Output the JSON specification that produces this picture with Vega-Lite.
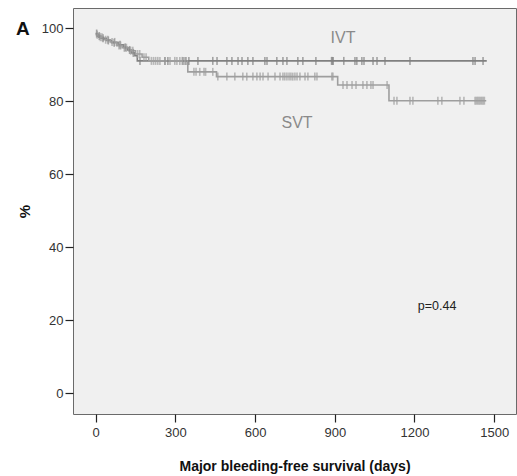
{
  "$schema": "https://vega.github.io/schema/vega-lite/v6.json",
  "width": 443,
  "height": 406,
  "autosize": {"type": "none"},
  "padding": {"left": 73, "top": 8, "right": 1, "bottom": 62},
  "background": "white",
  "title": {"text": "A", "anchor": "start", "frame": "group", "dx": -57, "dy": 35, "fontSize": 19, "fontWeight": "bold", "font": "Liberation Sans", "color": "#111"},
  "config": {
    "view": {"fill": "#f0f0f0", "stroke": "#6a6a6a", "strokeWidth": 1},
    "font": "Liberation Sans",
    "axis": {"grid": false, "domain": false, "tickColor": "#222", "tickSize": 8, "tickWidth": 1.2, "labelColor": "#333", "labelFontSize": 13, "titleColor": "#111", "titleFont": "Liberation Sans"}
  },
  "datasets": {
    "curve": [
      {"group": "IVT", "day": 0, "surv": 98.5},
      {"group": "IVT", "day": 8, "surv": 97.8},
      {"group": "IVT", "day": 20, "surv": 97.2},
      {"group": "IVT", "day": 40, "surv": 96.6},
      {"group": "IVT", "day": 60, "surv": 96.0},
      {"group": "IVT", "day": 85, "surv": 95.4},
      {"group": "IVT", "day": 105, "surv": 94.7},
      {"group": "IVT", "day": 120, "surv": 94.0},
      {"group": "IVT", "day": 135, "surv": 93.2},
      {"group": "IVT", "day": 148, "surv": 92.4},
      {"group": "IVT", "day": 157, "surv": 91.0},
      {"group": "IVT", "day": 1472, "surv": 91.0},
      {"group": "SVT", "day": 0, "surv": 98.2},
      {"group": "SVT", "day": 12, "surv": 97.5},
      {"group": "SVT", "day": 30, "surv": 96.8},
      {"group": "SVT", "day": 55, "surv": 96.2},
      {"group": "SVT", "day": 80, "surv": 95.2},
      {"group": "SVT", "day": 100, "surv": 94.6},
      {"group": "SVT", "day": 125, "surv": 93.8},
      {"group": "SVT", "day": 150, "surv": 92.9},
      {"group": "SVT", "day": 175, "surv": 92.0},
      {"group": "SVT", "day": 200, "surv": 91.0},
      {"group": "SVT", "day": 347, "surv": 88.0},
      {"group": "SVT", "day": 455, "surv": 86.7},
      {"group": "SVT", "day": 911, "surv": 84.4},
      {"group": "SVT", "day": 1104, "surv": 80.1},
      {"group": "SVT", "day": 1470, "surv": 80.1}
    ],
    "censor": [
      {"group": "IVT", "day": 4, "surv": 98.5},
      {"group": "IVT", "day": 14, "surv": 97.8},
      {"group": "IVT", "day": 28, "surv": 97.2},
      {"group": "IVT", "day": 48, "surv": 96.6},
      {"group": "IVT", "day": 70, "surv": 96.0},
      {"group": "IVT", "day": 92, "surv": 95.4},
      {"group": "IVT", "day": 112, "surv": 94.7},
      {"group": "IVT", "day": 128, "surv": 94.0},
      {"group": "IVT", "day": 142, "surv": 93.2},
      {"group": "IVT", "day": 167, "surv": 91.0},
      {"group": "IVT", "day": 261, "surv": 91.0},
      {"group": "IVT", "day": 272, "surv": 91.0},
      {"group": "IVT", "day": 329, "surv": 91.0},
      {"group": "IVT", "day": 340, "surv": 91.0},
      {"group": "IVT", "day": 351, "surv": 91.0},
      {"group": "IVT", "day": 385, "surv": 91.0},
      {"group": "IVT", "day": 441, "surv": 91.0},
      {"group": "IVT", "day": 457, "surv": 91.0},
      {"group": "IVT", "day": 494, "surv": 91.0},
      {"group": "IVT", "day": 513, "surv": 91.0},
      {"group": "IVT", "day": 536, "surv": 91.0},
      {"group": "IVT", "day": 551, "surv": 91.0},
      {"group": "IVT", "day": 573, "surv": 91.0},
      {"group": "IVT", "day": 592, "surv": 91.0},
      {"group": "IVT", "day": 637, "surv": 91.0},
      {"group": "IVT", "day": 645, "surv": 91.0},
      {"group": "IVT", "day": 682, "surv": 91.0},
      {"group": "IVT", "day": 705, "surv": 91.0},
      {"group": "IVT", "day": 720, "surv": 91.0},
      {"group": "IVT", "day": 761, "surv": 91.0},
      {"group": "IVT", "day": 780, "surv": 91.0},
      {"group": "IVT", "day": 829, "surv": 91.0},
      {"group": "IVT", "day": 888, "surv": 91.0},
      {"group": "IVT", "day": 891, "surv": 91.0},
      {"group": "IVT", "day": 894, "surv": 91.0},
      {"group": "IVT", "day": 934, "surv": 91.0},
      {"group": "IVT", "day": 976, "surv": 91.0},
      {"group": "IVT", "day": 983, "surv": 91.0},
      {"group": "IVT", "day": 1002, "surv": 91.0},
      {"group": "IVT", "day": 1010, "surv": 91.0},
      {"group": "IVT", "day": 1044, "surv": 91.0},
      {"group": "IVT", "day": 1059, "surv": 91.0},
      {"group": "IVT", "day": 1089, "surv": 91.0},
      {"group": "IVT", "day": 1183, "surv": 91.0},
      {"group": "IVT", "day": 1420, "surv": 91.0},
      {"group": "IVT", "day": 1428, "surv": 91.0},
      {"group": "IVT", "day": 1458, "surv": 91.0},
      {"group": "SVT", "day": 6, "surv": 98.2},
      {"group": "SVT", "day": 18, "surv": 97.5},
      {"group": "SVT", "day": 24, "surv": 97.5},
      {"group": "SVT", "day": 38, "surv": 96.8},
      {"group": "SVT", "day": 46, "surv": 96.8},
      {"group": "SVT", "day": 62, "surv": 96.2},
      {"group": "SVT", "day": 72, "surv": 96.2},
      {"group": "SVT", "day": 88, "surv": 95.2},
      {"group": "SVT", "day": 94, "surv": 95.2},
      {"group": "SVT", "day": 108, "surv": 94.6},
      {"group": "SVT", "day": 116, "surv": 94.6},
      {"group": "SVT", "day": 132, "surv": 93.8},
      {"group": "SVT", "day": 140, "surv": 93.8},
      {"group": "SVT", "day": 158, "surv": 92.9},
      {"group": "SVT", "day": 166, "surv": 92.9},
      {"group": "SVT", "day": 182, "surv": 92.0},
      {"group": "SVT", "day": 190, "surv": 92.0},
      {"group": "SVT", "day": 210, "surv": 91.0},
      {"group": "SVT", "day": 218, "surv": 91.0},
      {"group": "SVT", "day": 226, "surv": 91.0},
      {"group": "SVT", "day": 234, "surv": 91.0},
      {"group": "SVT", "day": 242, "surv": 91.0},
      {"group": "SVT", "day": 261, "surv": 91.0},
      {"group": "SVT", "day": 280, "surv": 91.0},
      {"group": "SVT", "day": 298, "surv": 91.0},
      {"group": "SVT", "day": 306, "surv": 91.0},
      {"group": "SVT", "day": 317, "surv": 91.0},
      {"group": "SVT", "day": 326, "surv": 91.0},
      {"group": "SVT", "day": 336, "surv": 91.0},
      {"group": "SVT", "day": 370, "surv": 88.0},
      {"group": "SVT", "day": 378, "surv": 88.0},
      {"group": "SVT", "day": 392, "surv": 88.0},
      {"group": "SVT", "day": 408, "surv": 88.0},
      {"group": "SVT", "day": 414, "surv": 88.0},
      {"group": "SVT", "day": 441, "surv": 88.0},
      {"group": "SVT", "day": 460, "surv": 86.7},
      {"group": "SVT", "day": 494, "surv": 86.7},
      {"group": "SVT", "day": 524, "surv": 86.7},
      {"group": "SVT", "day": 554, "surv": 86.7},
      {"group": "SVT", "day": 569, "surv": 86.7},
      {"group": "SVT", "day": 592, "surv": 86.7},
      {"group": "SVT", "day": 607, "surv": 86.7},
      {"group": "SVT", "day": 619, "surv": 86.7},
      {"group": "SVT", "day": 630, "surv": 86.7},
      {"group": "SVT", "day": 649, "surv": 86.7},
      {"group": "SVT", "day": 675, "surv": 86.7},
      {"group": "SVT", "day": 694, "surv": 86.7},
      {"group": "SVT", "day": 705, "surv": 86.7},
      {"group": "SVT", "day": 712, "surv": 86.7},
      {"group": "SVT", "day": 720, "surv": 86.7},
      {"group": "SVT", "day": 728, "surv": 86.7},
      {"group": "SVT", "day": 735, "surv": 86.7},
      {"group": "SVT", "day": 742, "surv": 86.7},
      {"group": "SVT", "day": 750, "surv": 86.7},
      {"group": "SVT", "day": 758, "surv": 86.7},
      {"group": "SVT", "day": 769, "surv": 86.7},
      {"group": "SVT", "day": 788, "surv": 86.7},
      {"group": "SVT", "day": 799, "surv": 86.7},
      {"group": "SVT", "day": 825, "surv": 86.7},
      {"group": "SVT", "day": 833, "surv": 86.7},
      {"group": "SVT", "day": 889, "surv": 86.7},
      {"group": "SVT", "day": 893, "surv": 86.7},
      {"group": "SVT", "day": 931, "surv": 84.4},
      {"group": "SVT", "day": 946, "surv": 84.4},
      {"group": "SVT", "day": 965, "surv": 84.4},
      {"group": "SVT", "day": 980, "surv": 84.4},
      {"group": "SVT", "day": 1006, "surv": 84.4},
      {"group": "SVT", "day": 1021, "surv": 84.4},
      {"group": "SVT", "day": 1036, "surv": 84.4},
      {"group": "SVT", "day": 1044, "surv": 84.4},
      {"group": "SVT", "day": 1097, "surv": 84.4},
      {"group": "SVT", "day": 1123, "surv": 80.1},
      {"group": "SVT", "day": 1134, "surv": 80.1},
      {"group": "SVT", "day": 1183, "surv": 80.1},
      {"group": "SVT", "day": 1194, "surv": 80.1},
      {"group": "SVT", "day": 1288, "surv": 80.1},
      {"group": "SVT", "day": 1303, "surv": 80.1},
      {"group": "SVT", "day": 1371, "surv": 80.1},
      {"group": "SVT", "day": 1386, "surv": 80.1},
      {"group": "SVT", "day": 1428, "surv": 80.1},
      {"group": "SVT", "day": 1433, "surv": 80.1},
      {"group": "SVT", "day": 1438, "surv": 80.1},
      {"group": "SVT", "day": 1443, "surv": 80.1},
      {"group": "SVT", "day": 1448, "surv": 80.1},
      {"group": "SVT", "day": 1453, "surv": 80.1},
      {"group": "SVT", "day": 1458, "surv": 80.1},
      {"group": "SVT", "day": 1463, "surv": 80.1}
    ],
    "labels": [
      {"day": 931, "surv": 97.3, "text": "IVT", "kind": "group"},
      {"day": 758, "surv": 74.0, "text": "SVT", "kind": "group"},
      {"day": 1285, "surv": 23.8, "text": "p=0.44", "kind": "p"}
    ]
  },
  "layer": [
    {
      "data": {"name": "curve"},
      "mark": {"type": "line", "interpolate": "step-after", "strokeWidth": 1.6},
      "encoding": {
        "x": {"field": "day", "type": "quantitative", "scale": {"domain": [-85, 1582], "nice": false, "zero": false},
              "axis": {"values": [0, 300, 600, 900, 1200, 1500], "format": "d", "title": "Major bleeding-free survival (days)", "titleFontSize": 14, "titleFontWeight": "bold", "titlePadding": 20, "labelPadding": 4}},
        "y": {"field": "surv", "type": "quantitative", "scale": {"domain": [-5.75, 105.5], "nice": false, "zero": false},
              "axis": {"values": [0, 20, 40, 60, 80, 100], "title": "%", "titleFontSize": 15, "titleFontWeight": "bold", "titlePadding": 9, "labelPadding": 2}},
        "color": {"field": "group", "type": "nominal", "scale": {"domain": ["IVT", "SVT"], "range": ["#808080", "#9e9e9e"]}, "legend": null},
        "detail": {"field": "group"}
      }
    },
    {
      "data": {"name": "censor"},
      "mark": {"type": "tick", "orient": "vertical", "size": 8, "thickness": 1.6},
      "encoding": {
        "x": {"field": "day", "type": "quantitative"},
        "y": {"field": "surv", "type": "quantitative"},
        "color": {"field": "group", "type": "nominal", "legend": null}
      }
    },
    {
      "data": {"name": "labels"},
      "transform": [{"filter": "datum.kind == 'group'"}],
      "mark": {"type": "text", "fontSize": 16, "color": "#8a8a8a", "align": "center", "baseline": "middle", "font": "Liberation Sans"},
      "encoding": {
        "x": {"field": "day", "type": "quantitative"},
        "y": {"field": "surv", "type": "quantitative"},
        "text": {"field": "text"}
      }
    },
    {
      "data": {"name": "labels"},
      "transform": [{"filter": "datum.kind == 'p'"}],
      "mark": {"type": "text", "fontSize": 12.5, "color": "#222", "align": "center", "baseline": "middle", "font": "Liberation Sans"},
      "encoding": {
        "x": {"field": "day", "type": "quantitative"},
        "y": {"field": "surv", "type": "quantitative"},
        "text": {"field": "text"}
      }
    }
  ]
}
